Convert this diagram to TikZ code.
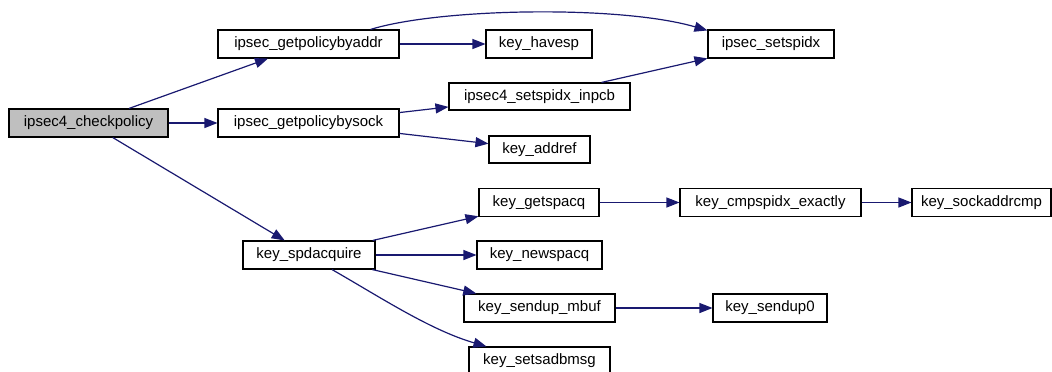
\documentclass[tikz,border=0pt]{standalone}
\usepackage{fontspec}
\setmainfont{Liberation Sans}
\usetikzlibrary{arrows.meta,calc}
\definecolor{edgec}{RGB}{25,25,112}
\definecolor{rootfill}{RGB}{191,191,191}
\begin{document}
\begin{tikzpicture}[x=1pt,y=-1pt,
  fn/.style={draw=black, line width=1.1pt, fill=white, minimum height=28pt,
    inner sep=0pt, font=\fontsize{15}{18}\selectfont, anchor=center},
  call/.style={draw=edgec, line width=1.2pt,
    -{Triangle[length=13pt,width=10pt,fill=edgec]}},
]
\useasboundingbox (0,0) rectangle (1052,372);

\node[fn, fill=rootfill, minimum width=159pt] (cp)  at (88.5,123)   {ipsec4\_checkpolicy};
\node[fn, minimum width=181pt] (gpa) at (308.5,44)   {ipsec\_getpolicybyaddr};
\node[fn, minimum width=181pt] (gps) at (308.5,123)  {ipsec\_getpolicybysock};
\node[fn, minimum width=132pt] (spd) at (309,255)    {key\_spdacquire};
\node[fn, minimum width=106pt] (hav) at (539,44)     {key\_havesp};
\node[fn, minimum width=126pt] (ssp) at (771,44)     {ipsec\_setspidx};
\node[fn, minimum width=181pt, minimum height=27pt] (inp) at (539.5,96.5) {ipsec4\_setspidx\_inpcb};
\node[fn, minimum width=101pt, minimum height=27pt] (adr) at (539.5,149.5) {key\_addref};
\node[fn, minimum width=120pt] (gsq) at (539,202.5)  {key\_getspacq};
\node[fn, minimum width=125pt] (nsq) at (539.5,255)  {key\_newspacq};
\node[fn, minimum width=151pt] (sum) at (539.5,308)  {key\_sendup\_mbuf};
\node[fn, minimum width=141pt] (sam) at (539.5,361)  {key\_setsadbmsg};
\node[fn, minimum width=181pt] (cmp) at (770.5,202.5) {key\_cmpspidx\_exactly};
\node[fn, minimum width=139pt] (sac) at (981.5,202.5) {key\_sockaddrcmp};
\node[fn, minimum width=114pt] (su0) at (770,308)    {key\_sendup0};

\draw[call] (cp) -- (gpa);
\draw[call] (cp) -- (gps);
\draw[call] (cp) -- (spd);
\draw[call] ($(gpa.north)+(62,0)$) .. controls (440,8) and (620,5) .. ($(ssp.north west)+(0,1)$);
\draw[call] (gpa) -- (hav);
\draw[call] (gps) -- (inp);
\draw[call] (gps) -- (adr);
\draw[call] (inp) -- (ssp);
\draw[call] (spd) -- (gsq);
\draw[call] (spd) -- (nsq);
\draw[call] (spd) -- (sum);
\draw[call] ($(spd.south)+(23,0)$) .. controls (380,297) and (430,330) .. ($(sam.north west)+(18,0)$);
\draw[call] (gsq) -- (cmp);
\draw[call] (cmp) -- (sac);
\draw[call] (sum) -- (su0);
\end{tikzpicture}
\end{document}
